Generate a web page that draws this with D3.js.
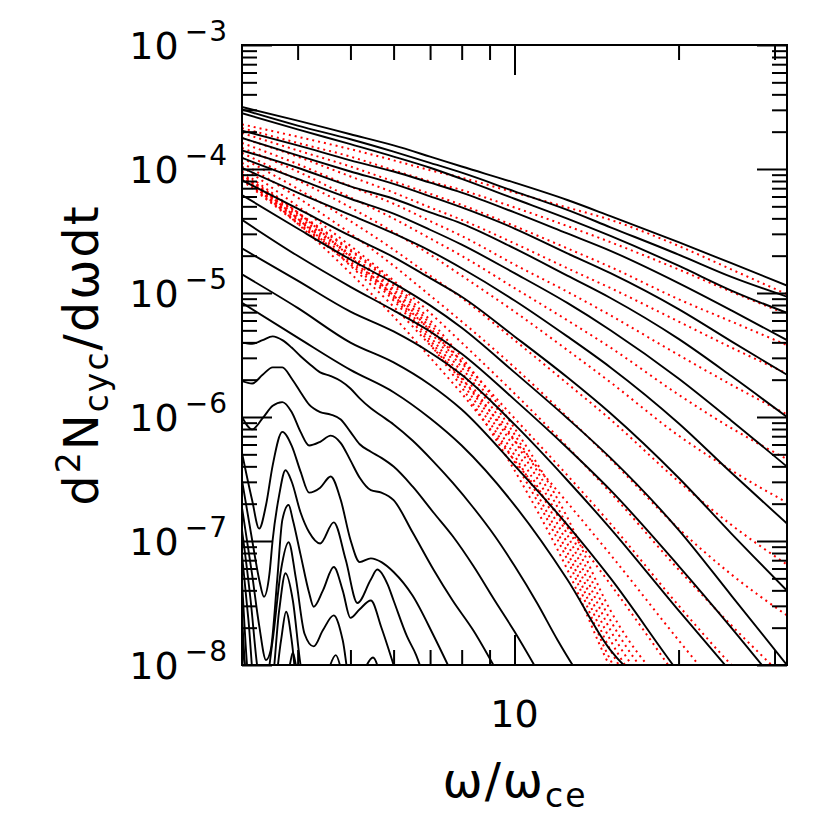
<!DOCTYPE html>
<html>
<head>
<meta charset="utf-8">
<title>Cyclotron spectrum</title>
<script src="https://cdn.jsdelivr.net/npm/d3@7"></script>
<style>
  body { margin: 0; background: #fff; }
  svg { display: block; }
  text { font-family: "DejaVu Sans", sans-serif; fill: #000; }
</style>
</head>
<body>
<div id="holder"></div>
<script>
//x nodes (omega / omega_ce) shared by the smooth curves
const xNodes = [3.162, 4, 5, 6, 7, 8, 10, 12.5, 15, 20, 25, 31.62];

//black curves, log10(d2N/dwdt) at xNodes
const blk1 = [-3.50,-3.61,-3.72,-3.81,-3.90,-3.98,-4.11,-4.25,-4.38,-4.59,-4.76,-4.94];
const blk2 = [-3.52,-3.65,-3.76,-3.86,-3.95,-4.03,-4.18,-4.33,-4.47,-4.69,-4.87,-5.03];
const blk3 = [-3.55,-3.68,-3.80,-3.90,-3.99,-4.08,-4.24,-4.40,-4.54,-4.78,-4.98,-5.16];
const blk4 = [-3.69,-3.81,-3.93,-4.02,-4.11,-4.19,-4.35,-4.52,-4.66,-4.92,-5.14,-5.38];
const blk5 = [-3.75,-3.89,-4.02,-4.12,-4.22,-4.31,-4.48,-4.68,-4.84,-5.13,-5.39,-5.66];
const blk6 = [-3.85,-3.99,-4.14,-4.24,-4.35,-4.44,-4.64,-4.86,-5.04,-5.37,-5.67,-6.00];
const blk7 = [-3.91,-4.08,-4.24,-4.36,-4.49,-4.61,-4.84,-5.08,-5.30,-5.69,-6.03,-6.40];
const blk8 = [-3.99,-4.19,-4.37,-4.52,-4.66,-4.80,-5.06,-5.35,-5.60,-6.05,-6.45,-6.86];
const blk9 = [-4.09,-4.32,-4.54,-4.71,-4.88,-5.03,-5.35,-5.68,-5.97,-6.49,-6.94,-7.40];
const blk10 = [-4.21,-4.48,-4.73,-4.92,-5.10,-5.28,-5.64,-6.01,-6.33,-6.91,-7.44,-8.00];
const blk11 = [-4.41,-4.70,-4.95,-5.14,-5.31,-5.49,-5.86,-6.25,-6.59,-7.20,-7.70,-8.25];
const blk12 = [-4.64,-4.90,-5.15,-5.31,-5.48,-5.66,-6.06,-6.51,-6.90,-7.56,-8.06];
const blk13 = [-4.85,-5.12,-5.40,-5.56,-5.74,-5.94,-6.39,-6.87,-7.30,-8.06,-8.60];
const blk14 = [-5.08,-5.36,-5.62,-5.80,-6.01,-6.23,-6.71,-7.31,-7.88,-8.28];

//colder black curves with harmonic bumps: own x and log10 y
const w1x = [3.162,3.3,3.45,3.6,3.75,3.9,4.05,4.2,4.4,4.6,4.8,5.0,5.2,5.45,5.7,6.0,6.5,7.1,7.7,8.4,9.2,10,11,12,13,14];
const w1y = [-5.40,-5.41,-5.38,-5.35,-5.38,-5.44,-5.51,-5.57,-5.64,-5.67,-5.71,-5.77,-5.85,-5.93,-5.99,-6.06,-6.19,-6.36,-6.53,-6.73,-6.96,-7.20,-7.50,-7.80,-8.05,-8.25];
const w2x = [3.162,3.3,3.45,3.6,3.75,3.9,4.05,4.2,4.4,4.6,4.8,5.0,5.2,5.45,5.7,6.0,6.5,7.1,7.7,8.4,9.2,10,11];
const w2y = [-5.71,-5.73,-5.66,-5.60,-5.60,-5.69,-5.80,-5.90,-5.96,-5.98,-6.02,-6.12,-6.22,-6.28,-6.33,-6.40,-6.56,-6.77,-6.96,-7.20,-7.48,-7.73,-8.04];
const w3x = [3.162,3.3,3.45,3.6,3.75,3.9,4.05,4.2,4.4,4.6,4.8,5.0,5.2,5.45,5.7,6.0,6.5,7.1,7.7,8.4,9.2];
const w3y = [-6.00,-6.10,-6.01,-5.91,-5.88,-5.96,-6.12,-6.23,-6.20,-6.15,-6.21,-6.35,-6.49,-6.59,-6.61,-6.67,-6.93,-7.23,-7.48,-7.72,-8.02];
const w4x = [3.162,3.3,3.4,3.5,3.6,3.75,3.9,4.05,4.2,4.4,4.6,4.8,5.0,5.2,5.45,5.7,6.0,6.5,7.1,7.7];
const w4y = [-6.29,-6.67,-6.90,-6.71,-6.39,-6.12,-6.23,-6.44,-6.61,-6.57,-6.48,-6.67,-6.99,-7.17,-7.14,-7.17,-7.25,-7.44,-7.76,-8.08];
const w5x = [3.162,3.3,3.4,3.47,3.55,3.6,3.7,3.8,3.9,4.05,4.2,4.4,4.66,4.9,5.15,5.45,5.6,5.85,6.0,6.35,6.6,6.8];
const w5y = [-6.51,-6.99,-7.31,-7.45,-7.27,-6.99,-6.63,-6.43,-6.52,-6.77,-6.93,-7.02,-6.85,-7.15,-7.50,-7.31,-7.23,-7.35,-7.48,-7.77,-7.92,-8.08];
const w6x = [3.162,3.3,3.4,3.5,3.57,3.67,3.75,3.85,3.92,4.05,4.2,4.28,4.45,4.66,4.84,5.0,5.2,5.45,5.7,6.0,6.2];
const w6y = [-6.73,-7.27,-7.68,-7.96,-7.88,-7.31,-6.83,-6.71,-6.83,-7.11,-7.42,-7.53,-7.40,-7.21,-7.40,-7.62,-7.55,-7.48,-7.70,-8.00,-8.20];
const w7x = [3.162,3.28,3.37,3.45,3.6,3.73,3.85,3.97,4.12,4.28,4.45,4.66,4.84,5.0,5.27,5.5,5.6,5.77];
const w7y = [-6.91,-7.48,-8.00,-8.28,-7.80,-7.23,-7.01,-7.30,-7.75,-7.85,-7.72,-7.60,-7.80,-8.15,-8.05,-7.94,-8.00,-8.28];
const w8x = [3.162,3.25,3.34,3.57,3.7,3.8,3.92,4.05,4.22,4.5,4.7,4.85,5.0];
const w8y = [-7.11,-7.64,-8.20,-8.20,-7.56,-7.26,-7.48,-8.00,-8.28,-8.10,-7.92,-8.10,-8.30];
const w9x = [3.162,3.23,3.32,3.6,3.73,3.81,3.9,4.0];
const w9y = [-7.31,-8.00,-8.44,-8.28,-7.80,-7.57,-7.80,-8.28];
const w10x = [3.162,3.2,3.28,3.75,3.87,3.92,3.97,4.05];
const w10y = [-7.60,-8.00,-8.44,-8.28,-8.00,-7.90,-8.00,-8.28];
const w11x = [3.162,3.2,3.25];
const w11y = [-7.84,-8.00,-8.28];

//red dotted approximations, log10 at xNodes
const red1 = [-3.64,-3.74,-3.84,-3.93,-4.01,-4.07,-4.19,-4.31,-4.41,-4.62,-4.81,-5.01];
const red2 = [-3.67,-3.79,-3.90,-4.01,-4.10,-4.17,-4.31,-4.46,-4.59,-4.81,-4.99,-5.17];
const red3 = [-3.71,-3.85,-3.98,-4.10,-4.20,-4.29,-4.46,-4.64,-4.79,-5.05,-5.23,-5.42];
const red4 = [-3.75,-3.90,-4.06,-4.19,-4.31,-4.41,-4.60,-4.80,-4.96,-5.23,-5.44,-5.65];
const red5 = [-3.79,-3.96,-4.14,-4.28,-4.42,-4.54,-4.77,-4.99,-5.18,-5.50,-5.74,-5.98];
const red6 = [-3.83,-4.02,-4.23,-4.40,-4.56,-4.70,-4.96,-5.22,-5.44,-5.82,-6.09,-6.34];
const red7 = [-3.87,-4.09,-4.31,-4.51,-4.69,-4.86,-5.15,-5.46,-5.72,-6.15,-6.43,-6.69];
const red8 = [-3.91,-4.16,-4.42,-4.65,-4.86,-5.04,-5.38,-5.73,-6.02,-6.52,-6.87,-7.19];
const red9 = [-3.95,-4.23,-4.52,-4.78,-5.02,-5.23,-5.60,-6.00,-6.34,-6.90,-7.27,-7.60];
const red10 = [-3.98,-4.30,-4.62,-4.90,-5.16,-5.40,-5.81,-6.24,-6.61,-7.23,-7.68,-8.12];
const red11 = [-4.02,-4.35,-4.71,-5.02,-5.30,-5.55,-6.01,-6.47,-6.86,-7.52,-8.00,-8.44];
const red12 = [-4.04,-4.40,-4.78,-5.11,-5.42,-5.69,-6.19,-6.69,-7.11,-7.80,-8.32];
const red13 = [-4.06,-4.44,-4.84,-5.19,-5.52,-5.81,-6.35,-6.89,-7.35,-8.12];
const band0 = [-4.09,-4.44,-4.77,-5.06,-5.41,-5.76,-6.43,-7.23,-8.02,-8.77];
const band1 = [-4.08,-4.43,-4.75,-5.04,-5.38,-5.72,-6.36,-7.15,-7.96,-8.69];
const band2 = [-4.07,-4.41,-4.73,-5.02,-5.35,-5.68,-6.31,-7.09,-7.88,-8.61];
const band3 = [-4.06,-4.40,-4.70,-4.99,-5.31,-5.64,-6.25,-7.02,-7.80,-8.52];
const band4 = [-4.06,-4.38,-4.69,-4.97,-5.28,-5.60,-6.19,-6.95,-7.72,-8.44];
const band5 = [-4.05,-4.36,-4.66,-4.94,-5.25,-5.56,-6.14,-6.88,-7.64,-8.36];
const band6 = [-4.04,-4.35,-4.65,-4.92,-5.22,-5.52,-6.09,-6.81,-7.56,-8.28];

//axis ticks
const xMajor = [10];
const xMinor = [4, 5, 6, 7, 8, 9, 20, 30];
const yDecades = [-8, -7, -6, -5, -4, -3];

//Variables
const w = 830, h = 830;
const mLeft = 242, mRight = 787, mTop = 45, mBottom = 665;

const xScale = d3.scaleLog().domain([Math.sqrt(10), Math.pow(10, 1.5)]).range([mLeft, mRight]);
const yScale = d3.scaleLog().domain([1e-8, 1e-3]).range([mBottom, mTop]);

const svg = d3.select("#holder").append("svg")
    .attr("width", w)
    .attr("height", h);

svg.append("defs").append("clipPath").attr("id", "plotclip")
    .append("rect")
    .attr("x", mLeft).attr("y", mTop)
    .attr("width", mRight - mLeft).attr("height", mBottom - mTop);

const line = d3.line()
    .x(d => xScale(d[0]))
    .y(d => yScale(Math.pow(10, d[1])))
    .curve(d3.curveMonotoneX);

const onNodes = arr => arr.map((v, i) => [xNodes[i], v]);
const pairs = (xs, ys) => xs.map((v, i) => [v, ys[i]]);

const plot = svg.append("g").attr("clip-path", "url(#plotclip)");

//red dotted curves first, black on top
const reds = [red1, red2, red3, red4, red5, red6, red7, red8, red9, red10, red11, red12, red13,
    band0, band1, band2, band3, band4, band5, band6];
plot.selectAll("path.red")
    .data(reds.map(onNodes))
    .enter()
    .append("path")
    .attr("class", "red")
    .attr("d", line)
    .attr("fill", "none")
    .attr("stroke", "#ff0000")
    .attr("stroke-width", 2)
    .attr("stroke-dasharray", "2,4");

const blacks = [blk1, blk2, blk3, blk4, blk5, blk6, blk7, blk8, blk9, blk10, blk11, blk12, blk13, blk14]
    .map(onNodes)
    .concat([
        pairs(w1x, w1y), pairs(w2x, w2y), pairs(w3x, w3y), pairs(w4x, w4y),
        pairs(w5x, w5y), pairs(w6x, w6y), pairs(w7x, w7y), pairs(w8x, w8y),
        pairs(w9x, w9y), pairs(w10x, w10y), pairs(w11x, w11y)
    ]);
plot.selectAll("path.blk")
    .data(blacks)
    .enter()
    .append("path")
    .attr("class", "blk")
    .attr("d", line)
    .attr("fill", "none")
    .attr("stroke", "#000")
    .attr("stroke-width", 1.9)
    .attr("stroke-linejoin", "round");

//ticks, all pointing into the box
const yMinor = [];
yDecades.slice(0, -1).forEach(k => {
    for (let m = 2; m <= 9; m++) yMinor.push(m * Math.pow(10, k));
});
const yMajor = yDecades.map(k => Math.pow(10, k));

function tickAxis(axisFn, scale, values, size, transform) {
    svg.append("g")
        .attr("transform", transform)
        .call(axisFn(scale).tickValues(values).tickSize(-size).tickFormat(""))
        .call(g => g.select(".domain").remove())
        .call(g => g.selectAll("line").attr("stroke", "#000").attr("stroke-width", 2));
}
tickAxis(d3.axisBottom, xScale, xMinor, 15, `translate(0,${mBottom})`);
tickAxis(d3.axisBottom, xScale, xMajor, 30, `translate(0,${mBottom})`);
tickAxis(d3.axisTop, xScale, xMinor, 15, `translate(0,${mTop})`);
tickAxis(d3.axisTop, xScale, xMajor, 30, `translate(0,${mTop})`);
tickAxis(d3.axisLeft, yScale, yMinor, 15, `translate(${mLeft},0)`);
tickAxis(d3.axisLeft, yScale, yMajor, 30, `translate(${mLeft},0)`);
tickAxis(d3.axisRight, yScale, yMinor, 15, `translate(${mRight},0)`);
tickAxis(d3.axisRight, yScale, yMajor, 30, `translate(${mRight},0)`);

//frame
svg.append("rect")
    .attr("x", mLeft).attr("y", mTop)
    .attr("width", mRight - mLeft).attr("height", mBottom - mTop)
    .attr("fill", "none")
    .attr("stroke", "#000")
    .attr("stroke-width", 2);

//y tick labels 10^k
yDecades.forEach(k => {
    const t = svg.append("text")
        .attr("x", 228)
        .attr("y", yScale(Math.pow(10, k)) + 14)
        .attr("text-anchor", "end")
        .attr("font-size", 38)
        .attr("letter-spacing", 1);
    t.append("tspan").text("10");
    t.append("tspan").attr("dx", 5).attr("dy", -18).attr("font-size", 28).text("\u2212" + (-k));
});

//x tick label
xMajor.forEach(v => {
    svg.append("text")
        .attr("x", xScale(v))
        .attr("y", 727)
        .attr("text-anchor", "middle")
        .attr("font-size", 38)
        .text(v);
});

//axis titles
const xt = svg.append("text")
    .attr("x", 515)
    .attr("y", 797)
    .attr("text-anchor", "middle")
    .attr("font-size", 48)
    .attr("letter-spacing", 2);
xt.append("tspan").text("\u03c9/\u03c9");
xt.append("tspan").attr("dy", 10).attr("font-size", 33).text("ce");

const yt = svg.append("text")
    .attr("transform", "translate(98,355) rotate(-90)")
    .attr("text-anchor", "middle")
    .attr("font-size", 48)
    .attr("letter-spacing", 2);
yt.append("tspan").text("d");
yt.append("tspan").attr("dy", -18).attr("font-size", 33).text("2");
yt.append("tspan").attr("dy", 18).text("N");
yt.append("tspan").attr("dy", 10).attr("font-size", 33).text("cyc");
yt.append("tspan").attr("dy", -10).text("/d\u03c9dt");
</script>
</body>
</html>
